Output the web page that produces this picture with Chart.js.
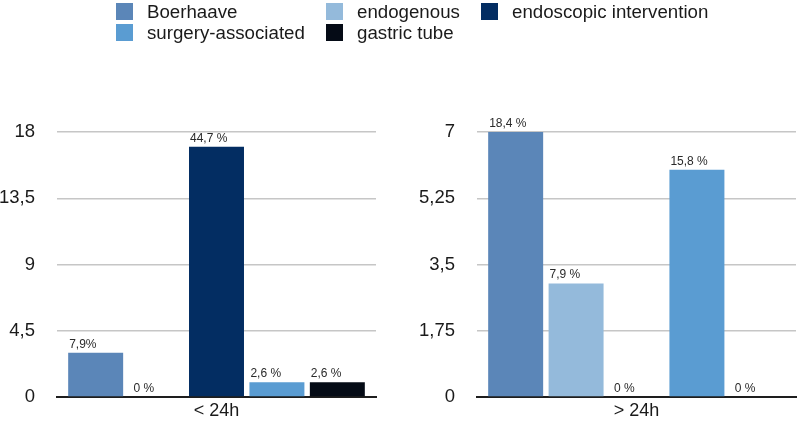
<!DOCTYPE html>
<html><head><meta charset="utf-8">
<script src="https://cdn.jsdelivr.net/npm/chart.js@4"></script>
<style>
html,body{margin:0;padding:0;background:#fff;width:797px;height:426px;overflow:hidden;font-family:"Liberation Sans",Arial,sans-serif;}
#left{position:absolute;left:0;top:0;width:400px;height:426px;}
#right{position:absolute;left:400px;top:0;width:397px;height:426px;}
#legend{position:absolute;left:116px;top:1px;display:grid;grid-template-columns:210px 155px auto;grid-auto-rows:21px;color:#1a1a1a;font-size:18.7px;z-index:2;}
.item{display:flex;align-items:center;white-space:nowrap;line-height:21px;}
.sw{width:17px;height:17px;margin-right:14px;flex:none;}
</style></head>
<body>
<div id="legend"></div>
<div id="left"><canvas id="c1"></canvas></div>
<div id="right"><canvas id="c2"></canvas></div>
<script>
// ---- data ----
const seriesNames = ["Boerhaave", "endogenous", "endoscopic intervention", "surgery-associated", "gastric tube"];
const seriesColors = ["#5b86b8", "#94badb", "#032d62", "#5a9cd2", "#050b16"];
const leftCategory = ["< 24h"];
const rightCategory = ["> 24h"];
const leftValues = [3, 0, 17, 1, 1];
const rightValues = [7, 3, 0, 6, 0];
const leftPctLabels = ["7,9%", "0 %", "44,7 %", "2,6 %", "2,6 %"];
const rightPctLabels = ["18,4 %", "7,9 %", "0 %", "15,8 %", "0 %"];
const leftTickLabels = ["0", "4,5", "9", "13,5", "18"];
const rightTickLabels = ["0", "1,75", "3,5", "5,25", "7"];
const leftMax = 18, leftStep = 4.5;
const rightMax = 7, rightStep = 1.75;

// ---- legend (HTML) ----
const leg = document.getElementById('legend');
seriesNames.forEach((n, i) => {
  const d = document.createElement('div');
  d.className = 'item';
  const s = document.createElement('span');
  s.className = 'sw';
  s.style.background = seriesColors[i];
  const t = document.createElement('span');
  t.textContent = n;
  d.appendChild(s); d.appendChild(t);
  leg.appendChild(d);
});

const FONT = '"Liberation Sans", Arial, sans-serif';

const pctPlugin = {
  id: 'pct',
  afterDatasetsDraw(chart, args, opts) {
    const ctx = chart.ctx;
    ctx.save();
    ctx.font = '12px ' + FONT;
    ctx.fillStyle = '#2a2a2a';
    ctx.textAlign = 'left';
    ctx.textBaseline = 'alphabetic';
    chart.data.datasets.forEach((ds, i) => {
      const meta = chart.getDatasetMeta(i);
      meta.data.forEach((bar, j) => {
        const left = bar.x - bar.width / 2;
        const off = ds.data[j] === 0 ? 5 : 1;
        ctx.fillText(opts.labels[i], left + off, bar.y - 5);
      });
    });
    ctx.restore();
  }
};

function makeChart(id, cats, values, pct, ticks, max, step, yWidth, padRight) {
  return new Chart(document.getElementById(id), {
    type: 'bar',
    data: {
      labels: cats,
      datasets: seriesNames.map((n, i) => ({
        label: n,
        data: [values[i]],
        backgroundColor: seriesColors[i],
        borderWidth: 0,
        categoryPercentage: 0.947,
        barPercentage: 0.91
      }))
    },
    options: {
      responsive: true,
      maintainAspectRatio: false,
      animation: false,
      layout: { padding: { top: 132, right: padRight, left: 0, bottom: 0 } },
      plugins: {
        legend: { display: false },
        tooltip: { enabled: false },
        pct: { labels: pct }
      },
      scales: {
        x: {
          grid: { display: false, drawTicks: false },
          border: { display: true, color: '#1e1e1e', width: 2 },
          ticks: { color: '#1a1a1a', font: { family: FONT, size: 18 }, padding: 3 },
          afterFit(s) { s.height = 29; }
        },
        y: {
          min: 0, max: max,
          border: { display: false },
          grid: {
            drawTicks: false,
            lineWidth: 1.5,
            color: c => (c.tick && c.tick.value === 0) ? 'rgba(0,0,0,0)' : '#c6c6c6'
          },
          ticks: {
            stepSize: step,
            padding: 22,
            color: '#1a1a1a',
            font: { family: FONT, size: 18.5 },
            callback: (v, i) => ticks[i]
          },
          afterFit(s) { s.width = yWidth; s.paddingTop = 0; s.paddingBottom = 0; }
        }
      }
    },
    plugins: [pctPlugin]
  });
}

makeChart('c1', leftCategory, leftValues, leftPctLabels, leftTickLabels, leftMax, leftStep, 57, 24);
makeChart('c2', rightCategory, rightValues, rightPctLabels, rightTickLabels, rightMax, rightStep, 77, 1);
</script>
</body></html>
